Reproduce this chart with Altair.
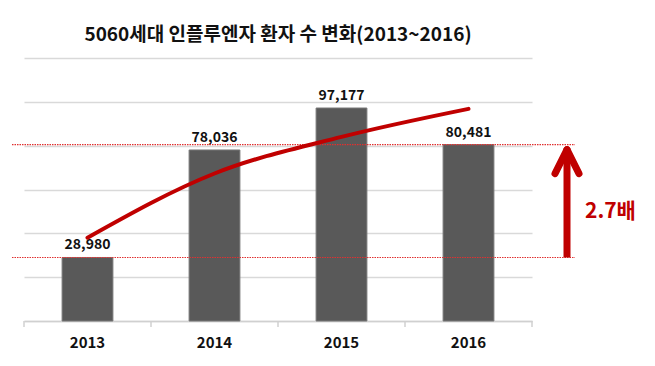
import altair as alt
import pandas as pd

years = ["2013", "2014", "2015", "2016"]
patients = [28980, 78036, 97177, 80481]
trend = [38000, 67300, 84000, 96800]  # red curve read at each bar centre
ref_lines = [28980, 80481]
ratio_label = "2.7배"
title_text = "5060세대 인플루엔자 환자 수 변화(2013~2016)"
y_ticks = [0, 20000, 40000, 60000, 80000, 100000, 120000]

W, H = 508, 263
FONT = "Noto Sans CJK KR"
RED = "#c00000"

df = pd.DataFrame({"year": years, "patients": patients, "trend": trend})
ref_df = pd.DataFrame({"value": ref_lines})
one = pd.DataFrame({"a": [0]})

x_enc = alt.X("year:N", sort=years,
              scale=alt.Scale(paddingInner=0, paddingOuter=0),
              axis=alt.Axis(title=None, ticks=False, domainColor="#d0d0d0",
                            domainWidth=1.5, labelFont=FONT, labelFontSize=15,
                            labelFontWeight="bold", labelColor="#111111",
                            labelPadding=14, labelAngle=0, grid=False))
y_enc = alt.Y("patients:Q", scale=alt.Scale(domain=[0, 120000], nice=False),
              axis=alt.Axis(title=None, labels=False, ticks=False, domain=False,
                            values=y_ticks, gridColor="#d9d9d9", gridWidth=1.3))

base = alt.Chart(df)

bars = base.mark_bar(width=alt.RelativeBandSize(0.4), color="#595959",
                     stroke="#777777", strokeWidth=1).encode(x=x_enc, y=y_enc)

labels = base.mark_text(dy=-12, font=FONT, fontSize=14, fontWeight="bold",
                        color="#111111").encode(
    x=alt.X("year:N", sort=years),
    y=alt.Y("patients:Q"),
    text=alt.Text("patients:Q", format=","))

ticks = base.mark_rule(color="#d0d0d0", strokeWidth=1.5).encode(
    x=alt.X("year:N", sort=years, bandPosition=0),
    y=alt.value(H), y2=alt.value(H + 6))
end_tick = alt.Chart(one).mark_rule(color="#d0d0d0", strokeWidth=1.5).encode(
    x=alt.value(W), y=alt.value(H), y2=alt.value(H + 6))

curve = base.mark_line(color=RED, strokeWidth=4, interpolate="monotone",
                       strokeCap="round").encode(
    x=alt.X("year:N", sort=years), y=alt.Y("trend:Q"))

refs = alt.Chart(ref_df).mark_rule(color="#e03030", strokeWidth=1.2,
                                   strokeDash=[1.5, 1]).encode(
    y=alt.Y("value:Q"), x=alt.value(-12), x2=alt.value(W + 43))

shaft = alt.Chart(one).mark_rule(color=RED, strokeWidth=7, y2Offset=6).encode(
    x=alt.value(543), y=alt.datum(ref_lines[0]), y2=alt.datum(ref_lines[1]))
arm_l = alt.Chart(one).mark_rule(color=RED, strokeWidth=7, strokeCap="round",
                                 yOffset=5, y2Offset=29).encode(
    x=alt.value(543), x2=alt.value(531),
    y=alt.datum(ref_lines[1]), y2=alt.datum(ref_lines[1]))
arm_r = alt.Chart(one).mark_rule(color=RED, strokeWidth=7, strokeCap="round",
                                 yOffset=5, y2Offset=29).encode(
    x=alt.value(543), x2=alt.value(555),
    y=alt.datum(ref_lines[1]), y2=alt.datum(ref_lines[1]))
ratio = alt.Chart(one).mark_text(align="left", baseline="middle", font=FONT,
                                 fontSize=21, fontWeight="bold", color=RED).encode(
    x=alt.value(561), y=alt.value(154), text=alt.datum(ratio_label))

chart = alt.layer(bars, labels, ticks, end_tick, refs, curve, shaft, arm_l,
                  arm_r, ratio).properties(
    width=W, height=H,
    background="white",
    title=alt.TitleParams(title_text, font=FONT, fontSize=19, fontWeight="bold",
                          color="#111111", anchor="middle", frame="group",
                          offset=13),
    autosize=alt.AutoSizeParams(type="none"),
    padding={"left": 16, "top": 50, "right": 115, "bottom": 37},
).configure_view(stroke="transparent", strokeWidth=0)

chart.save("out.html", embed_options={"renderer": "svg", "actions": False})
